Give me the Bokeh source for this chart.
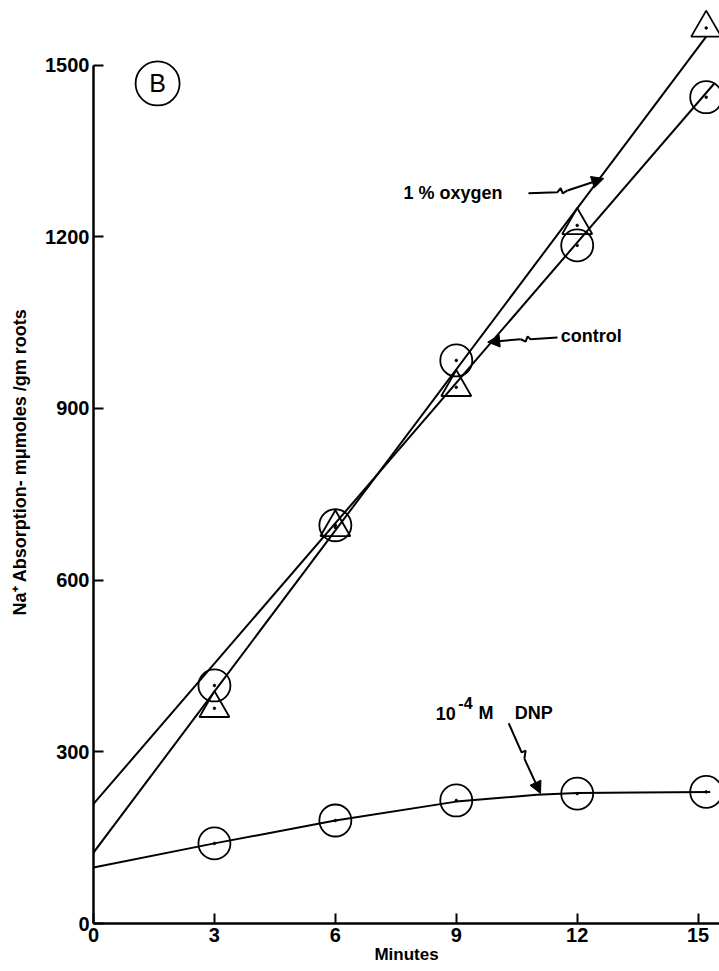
from bokeh.plotting import figure
from bokeh.models import Range1d, Arrow, NormalHead, FixedTicker
from bokeh.core.properties import value
from bokeh.embed import file_html
from bokeh.resources import INLINE

# ---- data ----
minutes = [3, 6, 9, 12, 15.2]
control = [416, 696, 984, 1185, 1444]
oxygen = [376, 692, 937, 1220, 1565]
dnp = [140, 180, 215, 227, 230]

control_fit_x = [0, 15.4]
control_fit_y = [209, 1468]
oxygen_fit_x = [0, 15.2]
oxygen_fit_y = [124, 1550]
dnp_curve_x = [0, 3, 6, 9, 11, 12, 13.5, 15.3]
dnp_curve_y = [98, 140, 180, 213, 225, 228, 229, 230]

x_ticks = [0, 3, 6, 9, 12, 15]
y_ticks = [0, 300, 600, 900, 1200, 1500]

FONT = "Liberation Sans"

p = figure(width=719, height=971, output_backend="svg", toolbar_location=None,
           x_range=Range1d(0, 15.53), y_range=Range1d(0, 1613),
           min_border_left=93, min_border_right=0, min_border_top=0,
           min_border_bottom=48)
p.outline_line_color = None
p.xgrid.visible = False
p.ygrid.visible = False
p.background_fill_color = "white"
p.border_fill_color = "white"

for ax in (p.xaxis[0], p.yaxis[0]):
    ax.axis_line_width = 2.5
    ax.axis_line_color = "black"
    ax.major_tick_in = 10
    ax.major_tick_out = 0
    ax.major_tick_line_width = 2
    ax.major_tick_line_color = "black"
    ax.minor_tick_line_color = None
    ax.major_label_text_font = FONT
    ax.major_label_text_font_style = "bold"
    ax.major_label_text_font_size = "20px"
    ax.major_label_text_color = "black"
    ax.axis_label_text_font = FONT
    ax.axis_label_text_font_style = "bold"
    ax.axis_label_text_font_size = "17px"
    ax.axis_label_text_color = "black"
    ax.major_label_standoff = 4

p.xaxis.ticker = FixedTicker(ticks=x_ticks)
p.yaxis.ticker = FixedTicker(ticks=y_ticks)
p.yaxis.bounds = (0, 1500)
p.xaxis.axis_label = "Minutes"
p.xaxis.axis_label_standoff = 0
p.yaxis.axis_label = "Na⁺ Absorption- mμmoles /gm roots"
p.yaxis.axis_label_text_font_size = "18px"
p.yaxis.axis_label_standoff = 12

# fitted lines
p.line(control_fit_x, control_fit_y, line_color="black", line_width=2)
p.line(oxygen_fit_x, oxygen_fit_y, line_color="black", line_width=2)
p.line(dnp_curve_x, dnp_curve_y, line_color="black", line_width=2)

# markers
p.scatter(minutes, control, marker="circle", size=32, fill_color=None,
          line_color="black", line_width=1.8)
p.scatter(minutes, oxygen, marker="triangle", size=30, fill_color=None,
          line_color="black", line_width=1.8)
p.scatter(minutes, dnp, marker="circle", size=32, fill_color=None,
          line_color="black", line_width=1.8)
for ys in (control, oxygen, dnp):
    p.scatter(minutes, ys, marker="circle", size=2.5, color="black")

# panel letter
p.scatter([1.59], [1468], marker="circle", size=44, fill_color=None,
          line_color="black", line_width=1.8)
p.text([1.59], [1468], text=["B"], text_align="center", text_baseline="middle",
       text_font=value(FONT), text_font_size="25px", text_color="black")

# annotation labels
def label(x, y, s, size="18px"):
    p.text([x], [y], text=[s], text_align="left", text_baseline="middle",
           text_font=value(FONT), text_font_style="bold", text_font_size=size,
           text_color="black")

label(7.69, 1276, "1 %  oxygen")
label(11.59, 1026, "control")
label(8.49, 367, "10")
label(9.05, 386, "-4", "16px")
label(9.55, 367, "M")
label(10.45, 367, "DNP")

# squiggly arrows
arrows = [
    ([10.79, 11.51, 11.59, 11.64, 11.76], [1276, 1278, 1285, 1276, 1281], (12.66, 1302)),
    ([11.51, 10.84, 10.77, 10.72, 10.60], [1024, 1021, 1026, 1017, 1021], (9.78, 1016)),
    ([10.30, 10.62, 10.72, 10.69], [350, 299, 302, 288], (11.09, 227)),
]
for xs, ys, end in arrows:
    p.line(xs, ys, line_color="black", line_width=2)
    p.add_layout(Arrow(x_start=xs[-1], y_start=ys[-1], x_end=end[0], y_end=end[1],
                       line_color="black", line_width=2,
                       end=NormalHead(size=12, fill_color="black", line_color="black")))

open("out.html", "w").write(file_html(p, INLINE))
